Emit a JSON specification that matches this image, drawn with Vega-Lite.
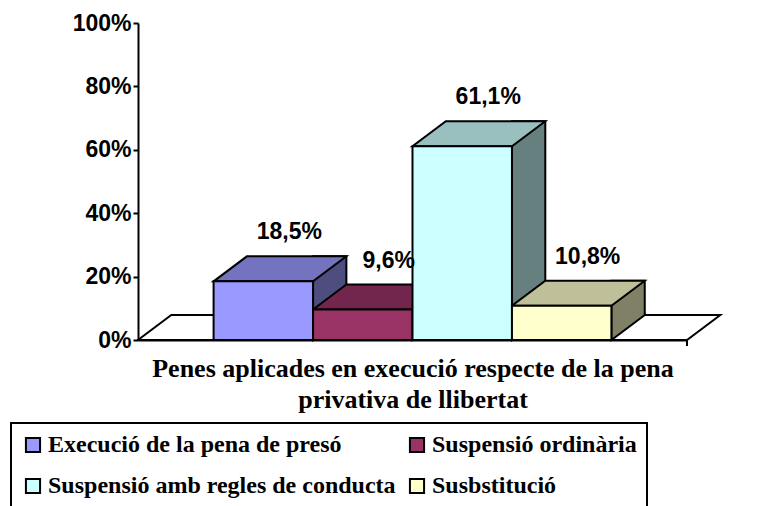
{
  "$schema": "https://vega.github.io/schema/vega-lite/v6.json",
  "width": 549,
  "height": 317,
  "autosize": {"type": "none"},
  "padding": {"left": 138, "top": 23, "right": 88, "bottom": 166},
  "background": "white",
  "config": {
    "view": {"stroke": null},
    "locale": {"number": {"decimal": ",", "thousands": ".", "grouping": [3], "currency": ["", " €"]}},
    "legend": {"gridAlign": "all", "labelFont": "Liberation Serif", "labelFontSize": 24, "labelFontWeight": "bold"}
  },
  "data": {
    "values": [
      {"categoria": "Execució de la pena de presó", "valor": 0.185},
      {"categoria": "Suspensió ordinària", "valor": 0.096},
      {"categoria": "Suspensió amb regles de conducta", "valor": 0.611},
      {"categoria": "Susbstitució", "valor": 0.108}
    ]
  },
  "resolve": {"scale": {"fill": "independent"}},
  "layer": [
    {
      "data": {"values": [{"base": "terra"}]},
      "mark": {"type": "point", "shape": "M -274.5 0 L 274.5 0 L 307.8 -25 L -241.2 -25 Z M 274.5 0 L 274.5 6", "size": 4, "filled": true, "fill": "white", "stroke": "black", "strokeWidth": 2, "opacity": 1},
      "encoding": {"y": {"datum": 0, "type": "quantitative"}}
    },
    {
      "mark": {"type": "bar", "width": 33.33, "xOffset": 66.4, "yOffset": -25, "y2Offset": -25, "stroke": "black", "strokeWidth": 2},
      "encoding": {
        "x": {"field": "categoria", "type": "nominal", "sort": null},
        "y": {"field": "valor", "type": "quantitative"},
        "fill": {"field": "categoria", "type": "nominal", "legend": null,
          "scale": {"domain": ["Execució de la pena de presó", "Suspensió ordinària", "Suspensió amb regles de conducta", "Susbstitució"], "range": ["#4D4D80", "#4D1A33", "#668080", "#808066"]}}
      }
    },
    {
      "mark": {"type": "point", "shape": "M 49.73 -27 L 49.73 0 L 83.06 -25 L 83.06 -27", "size": 4, "filled": true, "stroke": "black", "strokeWidth": 2, "opacity": 1},
      "encoding": {
        "x": {"field": "categoria", "type": "nominal", "sort": null},
        "y": {"datum": 0, "type": "quantitative"},
        "fill": {"field": "categoria", "type": "nominal", "legend": null,
          "scale": {"domain": ["Execució de la pena de presó", "Suspensió ordinària", "Suspensió amb regles de conducta", "Susbstitució"], "range": ["#4D4D80", "#4D1A33", "#668080", "#808066"]}}
      }
    },
    {
      "mark": {"type": "point", "shape": "M -49.73 0 L 49.73 0 L 83.06 -25 L -16.4 -25 Z", "size": 4, "filled": true, "stroke": "black", "strokeWidth": 2, "opacity": 1},
      "encoding": {
        "x": {"field": "categoria", "type": "nominal", "sort": null},
        "y": {"field": "valor", "type": "quantitative"},
        "fill": {"field": "categoria", "type": "nominal", "legend": null,
          "scale": {"domain": ["Execució de la pena de presó", "Suspensió ordinària", "Suspensió amb regles de conducta", "Susbstitució"], "range": ["#7373BF", "#73264D", "#99BFBF", "#BFBF99"]}}
      }
    },
    {
      "mark": {"type": "bar", "stroke": "black", "strokeWidth": 2},
      "encoding": {
        "x": {
          "field": "categoria", "type": "nominal", "sort": null,
          "scale": {"paddingInner": 0, "paddingOuter": 0.76},
          "axis": {
            "title": ["Penes aplicades en execució respecte de la pena", "privativa de llibertat"],
            "titleFont": "Liberation Serif", "titleFontSize": 26, "titleFontWeight": "bold", "titleColor": "black",
            "titleLineHeight": 31, "titlePadding": 15,
            "labels": false, "ticks": false, "domain": true, "domainColor": "black", "domainWidth": 2
          }
        },
        "y": {
          "field": "valor", "type": "quantitative",
          "scale": {"domain": [0, 1], "nice": false},
          "axis": {
            "title": null, "values": [0, 0.2, 0.4, 0.6, 0.8, 1], "format": ".0%",
            "labelFont": "Liberation Sans", "labelFontSize": 23, "labelFontWeight": "bold", "labelColor": "black",
            "labelPadding": 2, "grid": false,
            "domainColor": "black", "domainWidth": 2, "tickColor": "black", "tickWidth": 2, "tickSize": 5
          }
        },
        "fill": {
          "field": "categoria", "type": "nominal",
          "scale": {"domain": ["Execució de la pena de presó", "Suspensió ordinària", "Suspensió amb regles de conducta", "Susbstitució"], "range": ["#9999FF", "#993366", "#CCFFFF", "#FFFFCC"]},
          "legend": {
            "title": null, "orient": "none", "legendX": -127, "legendY": 400,
            "direction": "horizontal", "columns": 2,
            "symbolType": "square", "symbolSize": 200, "symbolStrokeColor": "black", "symbolStrokeWidth": 2, "symbolOpacity": 1,
            "labelFont": "Liberation Serif", "labelFontSize": 24, "labelFontWeight": "bold", "labelColor": "black",
            "labelOffset": 3, "labelLimit": 0,
            "columnPadding": 9, "rowPadding": 17,
            "padding": 10, "strokeColor": "black", "fillColor": "white",
            "encode": {
              "legend": {"update": {"strokeWidth": {"value": 2}}},
              "labels": {"update": {"font": {"value": "Liberation Serif"}, "fontWeight": {"value": "bold"}, "fontSize": {"value": 24}}}
            }
          }
        }
      }
    },
    {
      "mark": {"type": "text", "font": "Liberation Sans", "fontSize": 23, "fontWeight": "bold", "color": "black", "baseline": "alphabetic", "align": "center", "xOffset": 26, "yOffset": -42},
      "encoding": {
        "x": {"field": "categoria", "type": "nominal", "sort": null},
        "y": {"field": "valor", "type": "quantitative"},
        "text": {"field": "valor", "type": "quantitative", "format": ".1%"}
      }
    }
  ]
}
